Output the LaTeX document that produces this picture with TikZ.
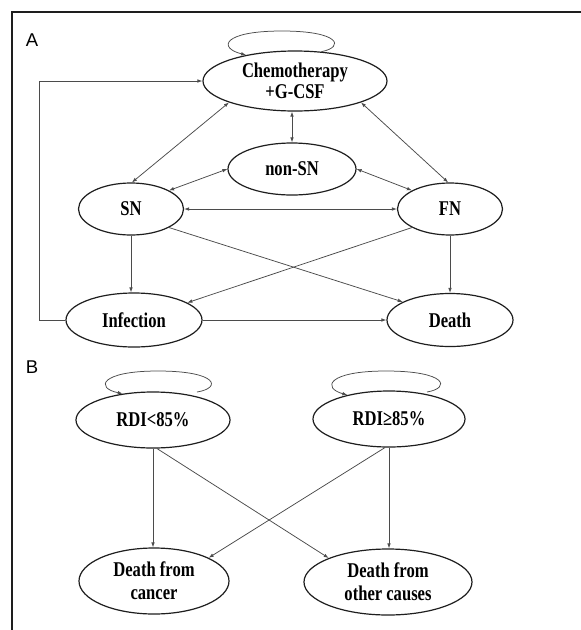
\documentclass[tikz,border=0pt]{standalone}
\usepackage{fontspec}
\setmainfont{Liberation Serif}
\newfontfamily\nodefont[FakeStretch=0.79]{Liberation Serif}
\newfontfamily\labfont{Liberation Sans}
\usetikzlibrary{arrows.meta,shapes.geometric,calc}
\definecolor{edgegray}{RGB}{75,75,75}
\definecolor{bordergray}{RGB}{30,30,30}
\begin{document}
\begin{tikzpicture}[x=1pt,y=-1pt,
  st/.style={ellipse, draw=bordergray, line width=1.2pt, inner sep=0pt, align=center,
    font=\nodefont\bfseries\fontsize{21}{21.5}\selectfont},
  arr/.style={-{Latex[length=5pt,width=3.6pt]}, draw=edgegray, line width=0.75pt},
  biarr/.style={{Latex[length=5pt,width=3.6pt]}-{Latex[length=5pt,width=3.6pt]}, draw=edgegray, line width=0.75pt},
  lab/.style={font=\labfont\fontsize{18.5}{20}\selectfont, inner sep=0pt},
  frameline/.style={draw=bordergray, line width=1.4pt}]
\useasboundingbox (0,0) rectangle (581,630);
\fill[white] (0,0) rectangle (581,630);
% frame
\coordinate (fTR) at (581,12);
\coordinate (fTL) at (12,12);
\coordinate (fBL) at (12,630);
\draw[frameline] (fTR) -- (fTL) -- (fBL);
% labels
\node[lab] (labA) at (32,40) {A};
\node[lab] (labB) at (32,367) {B};
% panel A nodes
\node[st, minimum width=184pt, minimum height=60pt] (chemo) at (295,81) {Chemotherapy\\+G-CSF};
\node[st, minimum width=128pt, minimum height=52pt] (nonsn) at (292,169) {non-SN};
\node[st, minimum width=105pt, minimum height=52pt] (sn) at (131,209) {SN};
\node[st, minimum width=105pt, minimum height=52pt] (fn) at (450,209) {FN};
\node[st, minimum width=136pt, minimum height=54pt] (infection) at (134,320) {Infection};
\node[st, minimum width=126pt, minimum height=53pt] (death) at (450,320) {Death};
% panel A self loop
\draw[arr] (chemo.48) .. controls (345,47) and (340,31) .. (282,31)
  .. controls (222,31) and (218,48) .. (chemo.152);
% panel A connectors
\draw[biarr] (chemo.198) -- (sn.88);
\draw[biarr] (nonsn.north) -- (nonsn.north |- chemo.south);
\draw[biarr] (chemo.342) -- (fn.94);
\draw[biarr] (sn.26) -- (nonsn.west);
\draw[biarr] (nonsn.east) -- (fn.154);
\draw[biarr] (sn.east) -- (fn.west);
\draw[arr] (sn.south) -- (sn.south |- infection.north);
\draw[arr] (sn.334) -- (death.159);
\draw[arr] (fn.206) -- (infection.18);
\draw[arr] (fn.south) -- (death.north);
\draw[arr] (infection.east) -- (death.west);
\draw[arr] (infection.west) -- ++(-26,0) |- (chemo.west);
% panel B nodes
\node[st, minimum width=154pt, minimum height=56pt] (rdilt) at (153,420) {RDI<85\%};
\node[st, minimum width=152pt, minimum height=56pt] (rdige) at (389,419) {RDI≥85\%};
\node[st, minimum width=150pt, minimum height=66pt, font=\nodefont\bfseries\fontsize{21}{23}\selectfont] (cancer) at (154,581) {Death from\\cancer};
\node[st, minimum width=168pt, minimum height=66pt, font=\nodefont\bfseries\fontsize{21}{23}\selectfont] (other) at (388,582) {Death from\\other causes};
% panel B self loops
\coordinate (ltstart) at (197,392);
\coordinate (gestart) at (427,392);
\draw[arr] (ltstart) .. controls (222,388) and (218,371) .. (158,371)
  .. controls (100,371) and (95,388) .. (rdilt.139);
\draw[arr] (gestart) .. controls (451,388) and (447,371) .. (386,371)
  .. controls (327,371) and (322,388) .. (rdige.150);
% panel B connectors
\draw[arr] (rdilt.south) -- (rdilt.south |- cancer.north);
\draw[arr] (rdilt.278) -- (other.158);
\draw[arr] (rdige.262) -- (cancer.23);
\draw[arr] (rdige.south) -- (rdige.south |- other.north);
\end{tikzpicture}
\end{document}
